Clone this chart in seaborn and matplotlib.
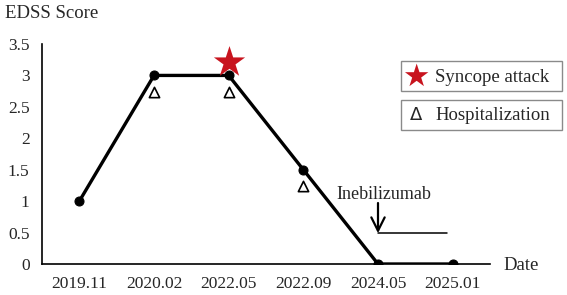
import matplotlib
matplotlib.use("Agg")
import matplotlib.pyplot as plt
import seaborn as sns
import pandas as pd
from matplotlib.patches import Rectangle

dates = ["2019.11", "2020.02", "2022.05", "2022.09", "2024.05", "2025.01"]
edss = [1, 3, 3, 1.5, 0, 0]
hosp_dates = ["2020.02", "2022.05", "2022.09"]
hosp_y = [2.73, 2.73, 1.24]
syncope_date = "2022.05"
syncope_y = 3.21

sns.set_style("white")
plt.rcParams['font.family'] = ['Liberation Serif', 'DejaVu Serif']

W, H = 567, 295
fig = plt.figure(figsize=(5.67, 2.95), dpi=100)
ax = fig.add_axes([42 / W, 31 / H, 448 / W, 220 / H])

df = pd.DataFrame({"Date": dates, "EDSS": edss})
sns.lineplot(data=df, x="Date", y="EDSS", ax=ax, color="black", linewidth=2.4,
             marker="o", markersize=6.5, markeredgecolor="black", sort=False)

pos = {d: i for i, d in enumerate(dates)}
ax.scatter([pos[d] for d in hosp_dates], hosp_y, marker="^", s=55,
           facecolors="white", edgecolors="black", linewidths=1.2, zorder=4)
ax.scatter([pos[syncope_date]], [syncope_y], marker="*", s=560,
           color="#c8141e", zorder=5, linewidths=0)

# Inebilizumab annotation
ax.annotate("", xy=(4.0, 0.49), xytext=(4.0, 0.97),
            arrowprops=dict(arrowstyle="->,head_length=0.6,head_width=0.3",
                            color="black", lw=1.6, mutation_scale=16,
                            shrinkA=0, shrinkB=0))
ax.plot([4.0, 4.92], [0.49, 0.49], color="black", lw=1.1)
ax.text(4.08, 1.10, "Inebilizumab", ha="center", va="center", fontsize=13)

ax.set_xlim(-0.5, 5.5)
ax.set_ylim(0, 3.5)
ax.set_xticks(range(len(dates)))
ax.set_xticklabels(dates, fontsize=12.5)
ax.set_xticks([i + 0.5 for i in range(len(dates))], minor=True)
ax.tick_params(axis="x", which="major", length=0, pad=9)
ax.tick_params(axis="x", which="minor", direction="in", length=5, width=1, color="black")
ax.set_yticks([0, 0.5, 1, 1.5, 2, 2.5, 3, 3.5])
ax.set_yticklabels(["0", "0.5", "1", "1.5", "2", "2.5", "3", "3.5"], fontsize=12.5)
ax.tick_params(axis="y", direction="in", length=5, width=1, color="black", pad=9)
ax.set_xlabel("")
ax.set_ylabel("")
for s in ["top", "right"]:
    ax.spines[s].set_visible(False)
for s in ["left", "bottom"]:
    ax.spines[s].set_color("black")
    ax.spines[s].set_linewidth(1.2)

fig.text(5 / W, 1 - 14 / H, "EDSS Score", fontsize=13.5, ha="left", va="center")
fig.text(503 / W, 1 - 265 / H, "Date", fontsize=13.5, ha="left", va="center")

# legend boxes
for (y0, y1) in [(61, 91), (100, 130)]:
    fig.patches.append(Rectangle((401 / W, 1 - y1 / H), 161 / W, (y1 - y0) / H,
                                 transform=fig.transFigure, fill=False,
                                 edgecolor="#8a8a8a", linewidth=1.0))
fig.text(416 / W, 1 - 77 / H, "\u2605", color="#c8141e", fontsize=22,
         ha="center", va="center", family=['DejaVu Sans'])
fig.text(435 / W, 1 - 77 / H, "Syncope attack", fontsize=13.5, ha="left", va="center")
fig.text(416 / W, 1 - 115 / H, "\u0394", fontsize=13, ha="center", va="center",
         family=['DejaVu Sans'])
fig.text(435 / W, 1 - 116 / H, "Hospitalization", fontsize=13.5, ha="left", va="center")

fig.savefig("out.png", dpi=100)
